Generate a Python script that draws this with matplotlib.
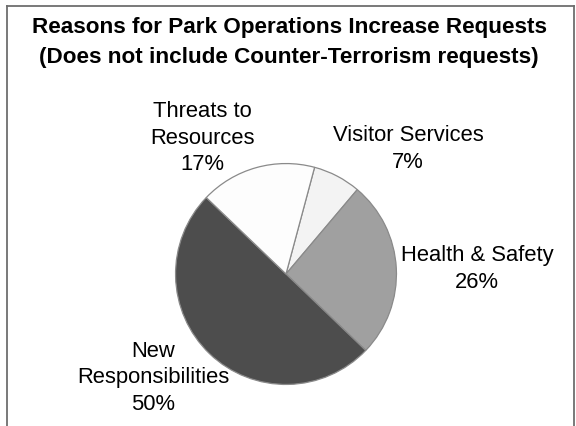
import matplotlib
matplotlib.use("Agg")
import matplotlib.pyplot as plt
from matplotlib.lines import Line2D

plt.rcParams['font.family'] = ['Liberation Sans', 'DejaVu Sans']

title_lines = ["Reasons for Park Operations Increase Requests",
               "(Does not include Counter-Terrorism requests)"]
categories = ["Visitor Services", "Health & Safety", "New\nResponsibilities", "Threats to\nResources"]
values = [7, 26, 50, 17]
colors = ["#f3f3f3", "#a0a0a0", "#4d4d4d", "#fdfdfd"]

W, H = 576, 427
fig = plt.figure(figsize=(W / 100, H / 100), dpi=100)
fig.patch.set_facecolor("white")

# pie axes: centre (286, 275) px, radius 111 px
cx, cy, r = 286, 275, 111
ax = fig.add_axes([(cx - r) / W, (H - cy - r) / H, 2 * r / W, 2 * r / H])
ax.pie(values, colors=colors, startangle=75, counterclock=False,
       wedgeprops=dict(edgecolor="#8a8a8a", linewidth=0.9))
ax.set_xlim(-1.005, 1.005)
ax.set_ylim(-1.005, 1.005)
ax.set_aspect("equal")
ax.axis("off")

# labels
label_pos = [(408, 149), (477, 269), (153, 378), (202, 138)]
for cat, val, (x, y) in zip(categories, values, label_pos):
    fig.text(x / W, 1 - y / H, f"{cat}\n{val}%", ha="center", va="center",
             fontsize=15.8, linespacing=1.34, color="black")

# title
for i, t in enumerate(title_lines):
    fig.text(289 / W, 1 - (27 + 30 * i) / H, t, ha="center", va="center",
             fontsize=16.2, fontweight="bold", color="black")

# frame (open at the bottom)
fx0, fx1, fy0 = 7, 574, 7
frame_col = "#6e6e6e"
fig.add_artist(Line2D([fx0 / W, fx0 / W], [0, 1 - fy0 / H], color=frame_col, lw=1.3, transform=fig.transFigure))
fig.add_artist(Line2D([fx0 / W, fx1 / W], [1 - fy0 / H, 1 - fy0 / H], color=frame_col, lw=1.3, transform=fig.transFigure))
fig.add_artist(Line2D([fx1 / W, fx1 / W], [0, 1 - fy0 / H], color=frame_col, lw=1.3, transform=fig.transFigure))

fig.savefig("out.png", dpi=100, facecolor="white")
